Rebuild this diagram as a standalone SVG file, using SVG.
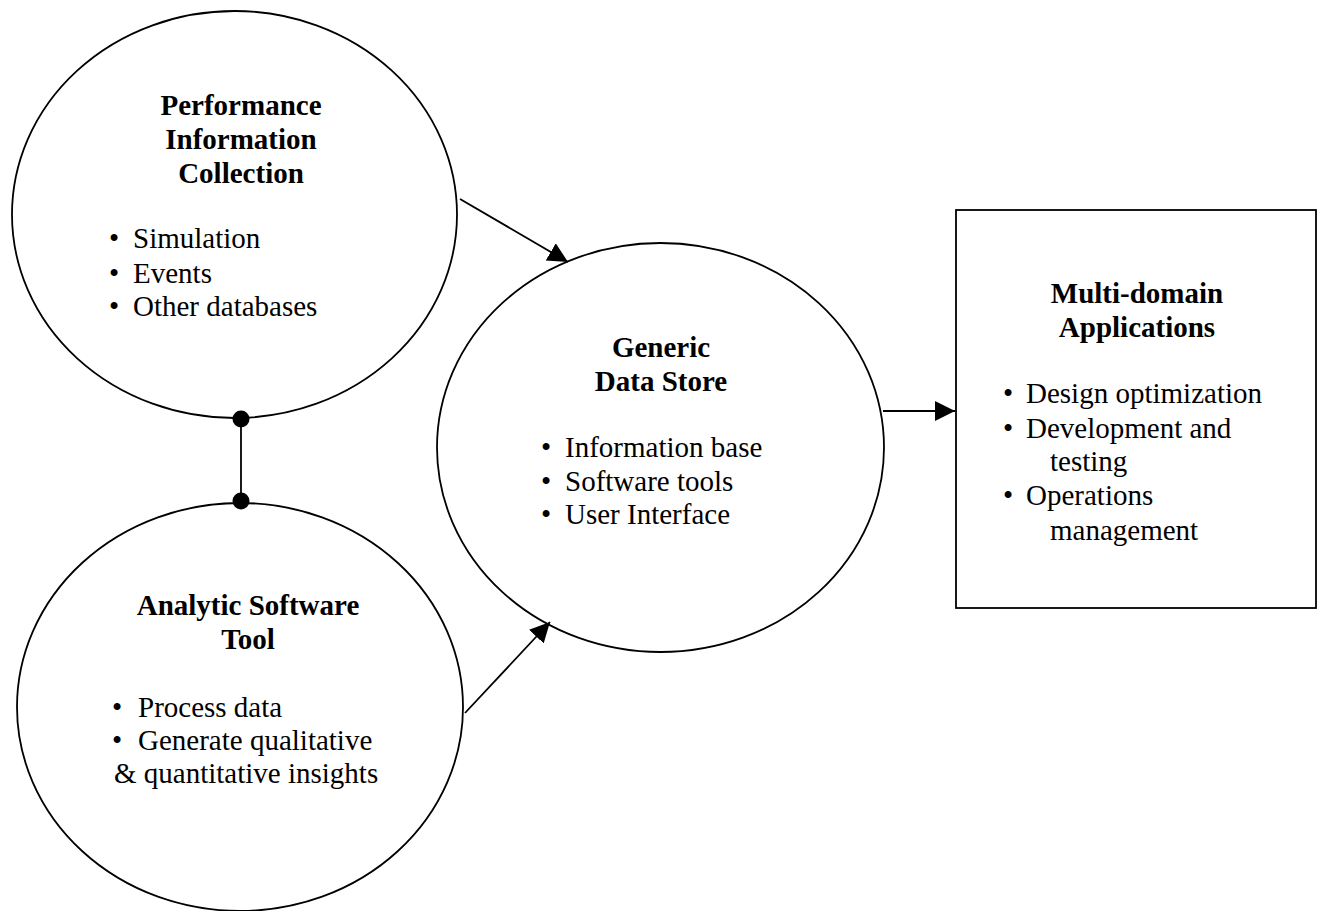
<svg xmlns="http://www.w3.org/2000/svg" width="1320" height="911" viewBox="0 0 1320 911">
<style>
.shape{fill:#fff;stroke:#000;stroke-width:1.8}
.line{stroke:#000;stroke-width:1.8;fill:none}
text{font-family:"Liberation Serif","Times New Roman",serif;font-size:29px;fill:#000}
.h{font-weight:bold;text-anchor:middle}
</style>
<defs>
<marker id="arr" markerUnits="userSpaceOnUse" markerWidth="22" markerHeight="22" refX="20" refY="10" orient="auto">
<path d="M0,0 L20,10 L0,20 z" fill="#000"/>
</marker>
</defs>
<rect width="1320" height="911" fill="#fff"/>
<g id="perf">
<ellipse class="shape" cx="234.5" cy="214.5" rx="222.5" ry="203.5"/>
<text class="h" x="241" y="115">Performance</text>
<text class="h" x="241" y="149">Information</text>
<text class="h" x="241" y="183">Collection</text>
<text x="109" y="248">•</text><text x="133" y="248">Simulation</text>
<text x="109" y="283">•</text><text x="133" y="283">Events</text>
<text x="109" y="316">•</text><text x="133" y="316">Other databases</text>
</g>
<g id="analytic">
<ellipse class="shape" cx="240" cy="707" rx="223" ry="204"/>
<text class="h" x="248" y="615">Analytic Software</text>
<text class="h" x="248" y="649">Tool</text>
<text x="112" y="717">•</text><text x="138" y="717">Process data</text>
<text x="112" y="750">•</text><text x="138" y="750">Generate qualitative</text>
<text x="114" y="783">&amp; quantitative insights</text>
</g>
<g id="store">
<ellipse class="shape" cx="660.5" cy="447.5" rx="223.5" ry="204.5"/>
<text class="h" x="661" y="357">Generic</text>
<text class="h" x="661" y="391">Data Store</text>
<text x="541" y="457">•</text><text x="565" y="457">Information base</text>
<text x="541" y="491">•</text><text x="565" y="491">Software tools</text>
<text x="541" y="524">•</text><text x="565" y="524">User Interface</text>
</g>
<g id="apps">
<rect class="shape" x="956" y="210" width="360" height="398"/>
<text class="h" x="1137" y="303">Multi-domain</text>
<text class="h" x="1137" y="337">Applications</text>
<text x="1003" y="403">•</text><text x="1026" y="403">Design optimization</text>
<text x="1003" y="438">•</text><text x="1026" y="438">Development and</text>
<text x="1050" y="471">testing</text>
<text x="1003" y="505">•</text><text x="1026" y="505">Operations</text>
<text x="1050" y="540">management</text>
</g>
<g id="connectors">
<line class="line" x1="460" y1="199" x2="568" y2="262" marker-end="url(#arr)"/>
<line class="line" x1="465" y1="713" x2="550" y2="622" marker-end="url(#arr)"/>
<line class="line" x1="883" y1="411" x2="955" y2="411" marker-end="url(#arr)"/>
<line class="line" x1="241" y1="419" x2="241" y2="501"/>
<circle cx="241" cy="419" r="8.5" fill="#000"/>
<circle cx="241" cy="501" r="8.5" fill="#000"/>
</g>
</svg>
